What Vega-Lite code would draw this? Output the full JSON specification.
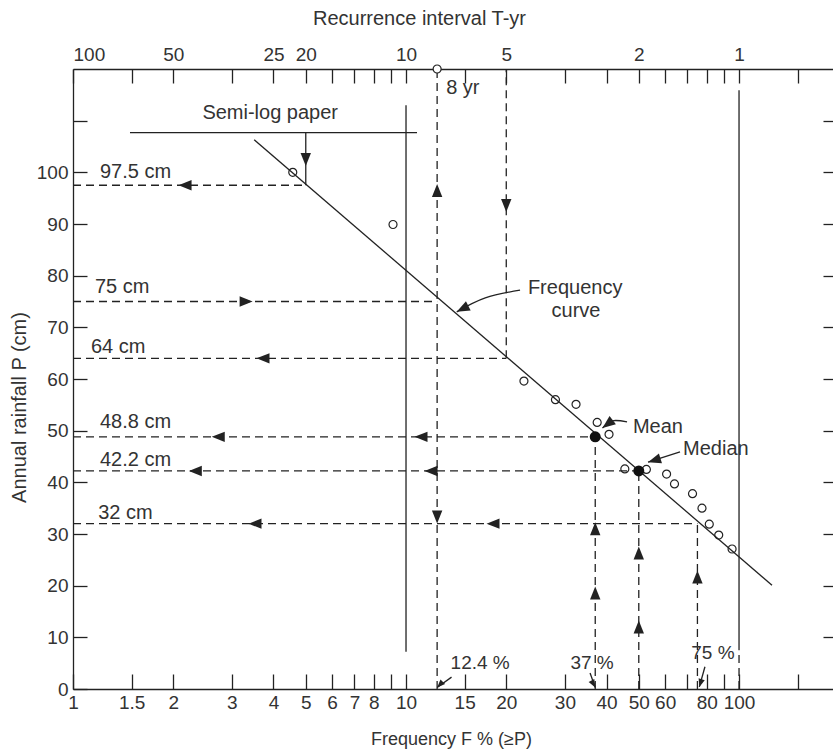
{
  "$schema": "https://vega.github.io/schema/vega-lite/v6.json",
  "width": 760,
  "height": 620,
  "autosize": {"type": "none"},
  "padding": {"left": 73, "top": 69, "right": 0, "bottom": 60},
  "background": "white",
  "config": {
    "view": {"stroke": null},
    "font": "Liberation Sans",
    "axis": {
      "grid": false,
      "domainColor": "#222",
      "tickColor": "#222",
      "labelColor": "#333",
      "titleColor": "#333",
      "labelFont": "Liberation Sans",
      "titleFont": "Liberation Sans",
      "labelFontSize": 19,
      "titleFontSize": 20,
      "titleFontWeight": "normal",
      "domainWidth": 1.3,
      "tickWidth": 1.3
    }
  },
  "datasets": {
    "solid": [
      {"F": 10, "F2": 10, "P": 7.2, "P2": 113},
      {"F": 100, "F2": 100, "P": 7.5, "P2": 115.9},
      {"F": 1.483, "F2": 10.79, "P": 107.7, "P2": 107.7},
      {"F": 5, "F2": 5, "P": 107.7, "P2": 97.5},
      {"F": 3.5, "F2": 125.6, "P": 106.3, "P2": 20.1},
      {"F": 13.7, "F2": 12.4, "P": 2.3, "P2": 0.3},
      {"F": 35.7, "F2": 37, "P": 3.1, "P2": 0.3},
      {"F": 79, "F2": 76, "P": 4.3, "P2": 0.4}
    ],
    "dashed": [
      {"F": 1, "F2": 5, "P": 97.5, "P2": 97.5},
      {"F": 1, "F2": 12.4, "P": 75, "P2": 75},
      {"F": 1, "F2": 20, "P": 64, "P2": 64},
      {"F": 1, "F2": 37, "P": 48.8, "P2": 48.8},
      {"F": 1, "F2": 50, "P": 42.2, "P2": 42.2},
      {"F": 1, "F2": 75, "P": 32, "P2": 32},
      {"F": 12.4, "F2": 12.4, "P": 0, "P2": 120},
      {"F": 20, "F2": 20, "P": 64, "P2": 120},
      {"F": 37, "F2": 37, "P": 0, "P2": 48.8},
      {"F": 50, "F2": 50, "P": 0, "P2": 42.2},
      {"F": 75, "F2": 75, "P": 0, "P2": 32},
      {"F": 100, "F2": 100, "P": 0, "P2": 7.5}
    ],
    "arrows": [
      {"F": 2.17, "P": 97.5, "dir": "left"},
      {"F": 3.31, "P": 75, "dir": "right"},
      {"F": 3.72, "P": 64, "dir": "left"},
      {"F": 2.73, "P": 48.8, "dir": "left"},
      {"F": 11.09, "P": 48.8, "dir": "left"},
      {"F": 2.33, "P": 42.2, "dir": "left"},
      {"F": 11.89, "P": 42.2, "dir": "left"},
      {"F": 3.52, "P": 32, "dir": "left"},
      {"F": 18.25, "P": 32, "dir": "left"},
      {"F": 12.4, "P": 96.5, "dir": "up"},
      {"F": 12.4, "P": 33.3, "dir": "down"},
      {"F": 20, "P": 93.6, "dir": "down"},
      {"F": 5, "P": 102.5, "dir": "down"},
      {"F": 37, "P": 31, "dir": "up"},
      {"F": 37, "P": 18.6, "dir": "up"},
      {"F": 50, "P": 26.3, "dir": "up"},
      {"F": 50, "P": 12, "dir": "up"},
      {"F": 75, "P": 21.7, "dir": "up"}
    ],
    "obs": [
      {"F": 4.57, "P": 100},
      {"F": 9.14, "P": 89.9},
      {"F": 22.6, "P": 59.6},
      {"F": 28.1, "P": 56.0},
      {"F": 32.4, "P": 55.1},
      {"F": 37.5, "P": 51.6},
      {"F": 40.7, "P": 49.3},
      {"F": 45.4, "P": 42.6},
      {"F": 52.7, "P": 42.5},
      {"F": 60.6, "P": 41.6},
      {"F": 64.0, "P": 39.7},
      {"F": 72.5, "P": 37.8},
      {"F": 77.4, "P": 35.0},
      {"F": 81.4, "P": 31.9},
      {"F": 86.9, "P": 29.8},
      {"F": 95.3, "P": 27.1}
    ],
    "stats": [
      {"stat": "Mean", "F": 37, "P": 48.8},
      {"stat": "Median", "F": 50, "P": 42.2}
    ],
    "pointers": [
      {"id": "freq", "F": 22.0, "P": 77.2},
      {"id": "freq", "F": 17.3, "P": 75.7},
      {"id": "freq", "F": 14.2, "P": 73.0},
      {"id": "mean", "F": 46.1, "P": 51.7},
      {"id": "mean", "F": 41.6, "P": 51.9},
      {"id": "mean", "F": 38.9, "P": 50.5},
      {"id": "median", "F": 66.5, "P": 45.9},
      {"id": "median", "F": 53.3, "P": 43.9}
    ],
    "labelsLeft": [
      {"text": "97.5 cm", "F": 1.205, "P": 100},
      {"text": "75 cm", "F": 1.164, "P": 77.8},
      {"text": "64 cm", "F": 1.132, "P": 66.2},
      {"text": "48.8 cm", "F": 1.205, "P": 51.7},
      {"text": "42.2 cm", "F": 1.205, "P": 44.3},
      {"text": "32 cm", "F": 1.19, "P": 34.1},
      {"text": "Mean", "F": 48, "P": 50.7},
      {"text": "Median", "F": 67.9, "P": 46.4},
      {"text": "8 yr", "F": 13.2, "P": 116.3}
    ],
    "labelsCenter": [
      {"text": "Semi-log paper", "F": 3.91, "P": 111.5},
      {"text": "Frequency", "F": 32.2, "P": 77.6},
      {"text": "curve", "F": 32.4, "P": 73.2}
    ],
    "labelsPct": [
      {"text": "12.4 %", "F": 16.7, "P": 5},
      {"text": "37 %", "F": 36.2, "P": 5},
      {"text": "75 %", "F": 83.5, "P": 7}
    ],
    "topMark": [
      {"T": 8, "F": 12.4, "P": 120}
    ]
  },
  "resolve": {"axis": {"x": "independent", "y": "independent"}},
  "layer": [
    {
      "layer": [
        {
          "data": {"name": "solid"},
          "mark": {"type": "rule", "color": "#222", "strokeWidth": 1.3},
          "encoding": {
            "x": {
              "field": "F",
              "type": "quantitative",
              "scale": {"type": "log", "domain": [1, 191.5], "nice": false},
              "axis": {
                "orient": "bottom",
                "values": [1, 1.5, 2, 3, 4, 5, 6, 7, 8, 9, 10, 15, 20, 30, 40, 50, 60, 70, 80, 90, 100, 150],
                "format": "~g",
                "labelExpr": "indexof([9, 70, 90, 150], datum.value) >= 0 ? '' : datum.label",
                "tickSize": -15,
                "labelPadding": 19,
                "labelFontSize": 19,
                "labelFlush": false,
                "labelOverlap": false,
                "labelBound": false,
                "title": "Frequency F % (≥P)",
                "titleFontSize": 18,
                "titleX": 378,
                "titleY": 55,
                "titleAlign": "center",
                "titleBaseline": "alphabetic"
              }
            },
            "x2": {"field": "F2"},
            "y": {
              "field": "P",
              "type": "quantitative",
              "scale": {"domain": [0, 120], "nice": false, "zero": true},
              "axis": {
                "orient": "left",
                "values": [0, 10, 20, 30, 40, 50, 60, 70, 80, 90, 100, 110],
                "labelExpr": "datum.value == 110 ? '' : datum.label",
                "tickSize": -14,
                "labelPadding": 19,
                "labelFlush": false,
                "labelOverlap": false,
                "title": "Annual rainfall P (cm)",
                "titleX": -54,
                "titleY": 338,
                "titleAngle": -90,
                "titleAlign": "center",
                "titleBaseline": "middle"
              }
            },
            "y2": {"field": "P2"}
          }
        },
        {
          "data": {"name": "dashed"},
          "mark": {"type": "rule", "color": "#222", "strokeWidth": 1.3, "strokeDash": [8, 5]},
          "encoding": {
            "x": {"field": "F", "type": "quantitative"},
            "x2": {"field": "F2"},
            "y": {"field": "P", "type": "quantitative"},
            "y2": {"field": "P2"}
          }
        },
        {
          "data": {"name": "pointers"},
          "mark": {"type": "line", "color": "#222", "strokeWidth": 1.3, "interpolate": "cardinal"},
          "encoding": {
            "x": {"field": "F", "type": "quantitative"},
            "y": {"field": "P", "type": "quantitative"},
            "detail": {"field": "id", "type": "nominal"},
            "order": {"value": null}
          }
        },
        {
          "data": {"name": "arrows"},
          "mark": {"type": "point", "filled": true, "color": "#222", "opacity": 1, "size": 169},
          "encoding": {
            "x": {"field": "F", "type": "quantitative"},
            "y": {"field": "P", "type": "quantitative"},
            "shape": {
              "field": "dir",
              "type": "nominal",
              "scale": {
                "domain": ["up", "down", "left", "right"],
                "range": ["M0,-1L-0.8,1L0.8,1Z", "M0,1L-0.8,-1L0.8,-1Z", "M-1,0L1,-0.8L1,0.8Z", "M1,0L-1,-0.8L-1,0.8Z"]
              },
              "legend": null
            }
          }
        },
        {
          "data": {"values": [{"F": 14.2, "P": 73.0}]},
          "mark": {"type": "point", "shape": "M0,0L-0.4,1L0.4,1Z", "filled": true, "color": "#222", "opacity": 1, "size": 676, "angle": 243},
          "encoding": {"x": {"field": "F", "type": "quantitative"}, "y": {"field": "P", "type": "quantitative"}}
        },
        {
          "data": {"values": [{"F": 38.9, "P": 50.5}]},
          "mark": {"type": "point", "shape": "M0,0L-0.4,1L0.4,1Z", "filled": true, "color": "#222", "opacity": 1, "size": 676, "angle": 232},
          "encoding": {"x": {"field": "F", "type": "quantitative"}, "y": {"field": "P", "type": "quantitative"}}
        },
        {
          "data": {"values": [{"F": 53.3, "P": 43.9}]},
          "mark": {"type": "point", "shape": "M0,0L-0.4,1L0.4,1Z", "filled": true, "color": "#222", "opacity": 1, "size": 676, "angle": 253},
          "encoding": {"x": {"field": "F", "type": "quantitative"}, "y": {"field": "P", "type": "quantitative"}}
        },
        {
          "data": {"values": [{"F": 12.4, "P": 0.3}]},
          "mark": {"type": "point", "shape": "M0,0L-0.4,1L0.4,1Z", "filled": true, "color": "#222", "opacity": 1, "size": 256, "angle": 225},
          "encoding": {"x": {"field": "F", "type": "quantitative"}, "y": {"field": "P", "type": "quantitative"}}
        },
        {
          "data": {"values": [{"F": 37, "P": 0.3}]},
          "mark": {"type": "point", "shape": "M0,0L-0.4,1L0.4,1Z", "filled": true, "color": "#222", "opacity": 1, "size": 256, "angle": 152},
          "encoding": {"x": {"field": "F", "type": "quantitative"}, "y": {"field": "P", "type": "quantitative"}}
        },
        {
          "data": {"values": [{"F": 76, "P": 0.4}]},
          "mark": {"type": "point", "shape": "M0,0L-0.4,1L0.4,1Z", "filled": true, "color": "#222", "opacity": 1, "size": 256, "angle": 197},
          "encoding": {"x": {"field": "F", "type": "quantitative"}, "y": {"field": "P", "type": "quantitative"}}
        },
        {
          "data": {"name": "obs"},
          "mark": {"type": "point", "shape": "circle", "filled": false, "color": "#222", "strokeWidth": 1.2, "opacity": 1, "size": 64},
          "encoding": {"x": {"field": "F", "type": "quantitative"}, "y": {"field": "P", "type": "quantitative"}}
        },
        {
          "data": {"name": "stats"},
          "mark": {"type": "point", "shape": "circle", "filled": true, "color": "#111", "opacity": 1, "size": 121},
          "encoding": {"x": {"field": "F", "type": "quantitative"}, "y": {"field": "P", "type": "quantitative"}}
        },
        {
          "data": {"name": "labelsLeft"},
          "mark": {"type": "text", "align": "left", "baseline": "middle", "fontSize": 20, "font": "Liberation Sans", "color": "#333"},
          "encoding": {"x": {"field": "F", "type": "quantitative"}, "y": {"field": "P", "type": "quantitative"}, "text": {"field": "text"}}
        },
        {
          "data": {"name": "labelsCenter"},
          "mark": {"type": "text", "align": "center", "baseline": "middle", "fontSize": 20, "font": "Liberation Sans", "color": "#333"},
          "encoding": {"x": {"field": "F", "type": "quantitative"}, "y": {"field": "P", "type": "quantitative"}, "text": {"field": "text"}}
        },
        {
          "data": {"name": "labelsPct"},
          "mark": {"type": "text", "align": "center", "baseline": "middle", "fontSize": 19, "font": "Liberation Sans", "color": "#333"},
          "encoding": {"x": {"field": "F", "type": "quantitative"}, "y": {"field": "P", "type": "quantitative"}, "text": {"field": "text"}}
        }
      ]
    },
    {
      "data": {"name": "topMark"},
      "mark": {"type": "point", "shape": "circle", "filled": true, "fill": "white", "stroke": "#222", "strokeWidth": 1.2, "opacity": 1, "size": 64},
      "encoding": {
        "x": {
          "field": "F",
          "type": "quantitative",
          "axis": {
            "orient": "top",
            "values": [1, 1.5, 2, 3, 4, 5, 6, 7, 8, 9, 10, 15, 20, 30, 40, 50, 60, 70, 80, 90, 100, 150],
            "labelExpr": "datum.value == 1 ? '100' : datum.value == 2 ? '50' : datum.value == 4 ? '25' : datum.value == 5 ? '20' : datum.value == 10 ? '10' : datum.value == 20 ? '5' : datum.value == 50 ? '2' : datum.value == 100 ? '1' : ''",
            "tickSize": -14,
            "labelPadding": 19,
            "labelFlush": true,
            "labelOverlap": false,
            "labelBound": false,
            "title": "Recurrence interval T-yr",
            "titleX": 346,
            "titleY": -45,
            "titleAlign": "center",
            "titleBaseline": "alphabetic"
          }
        },
        "y": {
          "field": "P",
          "type": "quantitative",
          "axis": {
            "orient": "right",
            "values": [10, 20, 30, 40, 50, 60, 70, 80, 90, 100, 110],
            "labels": false,
            "tickSize": -10,
            "domain": false,
            "title": null
          }
        }
      }
    }
  ]
}
